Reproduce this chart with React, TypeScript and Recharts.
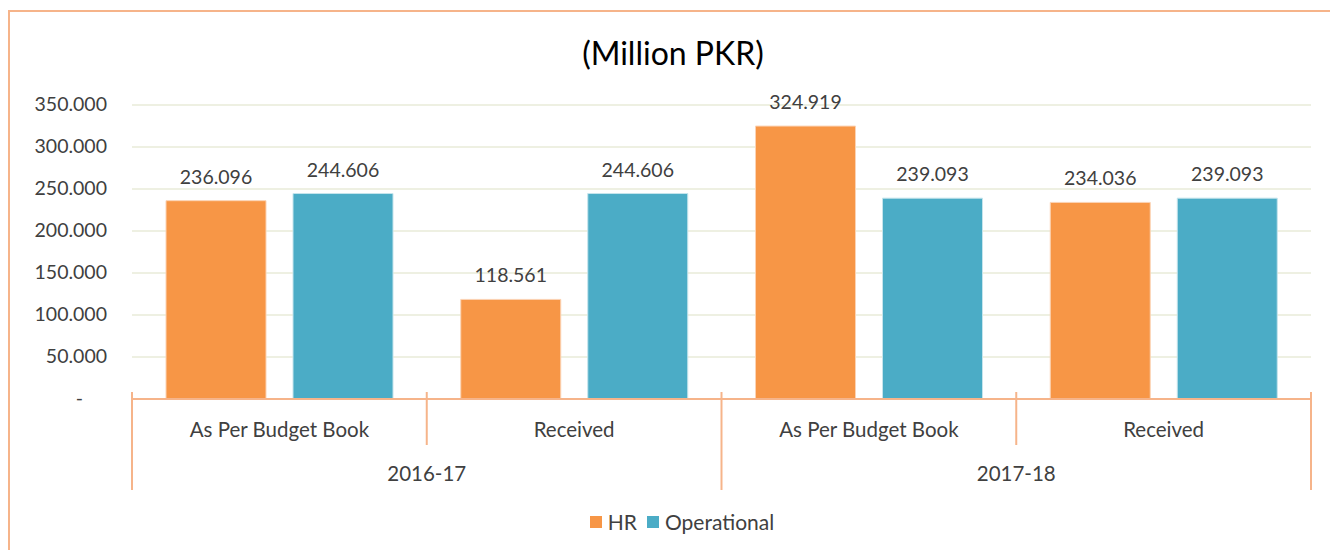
import { Bar, BarChart, CartesianGrid, LabelList, XAxis, YAxis } from "recharts"

const subCategories = ["As Per Budget Book", "Received", "As Per Budget Book", "Received"]
const years = ["2016-17", "2016-17", "2017-18", "2017-18"]
const hrValues = [236.096, 118.561, 324.919, 234.036]
const operationalValues = [244.606, 244.606, 239.093, 239.093]
const yTicks = [0, 50, 100, 150, 200, 250, 300, 350]

const ORANGE = "#f79646"
const TEAL = "#4bacc6"
const LINE = "#f6b48a"
const TEXT = "#404040"
const FONT = "Lato, 'Open Sans', sans-serif"

const data = subCategories.map((sub, i) => ({
  sub,
  year: years[i],
  hr: hrValues[i],
  operational: operationalValues[i],
}))

function fmt(v: number) {
  return v === 0 ? "-" : v.toFixed(3)
}

function YTick(props: any) {
  const { x, y, payload } = props
  const shift = payload.value === 0 ? -24 : 0
  return (
    <text x={x + shift} y={y} dy={6} textAnchor="end" fill={TEXT} fontSize={19.5} fontFamily={FONT}>
      {fmt(payload.value)}
    </text>
  )
}

function CategoryTick(props: any) {
  const { x, y, payload, index } = props
  const half = payload.offset ?? 0
  const last = index === data.length - 1
  const groupStart = index === 0 || data[index - 1].year !== data[index].year
  return (
    <g>
      <line x1={x - half} x2={x - half} y1={y - 7} y2={groupStart ? y + 91 : y + 46} stroke={LINE} strokeWidth={2} />
      {last && <line x1={x + half} x2={x + half} y1={y - 7} y2={y + 91} stroke={LINE} strokeWidth={2} />}
      <text x={x} y={y + 38} textAnchor="middle" fill={TEXT} fontSize={20.5} fontFamily={FONT}>
        {payload.value}
      </text>
      {groupStart && (
        <text x={x + half} y={y + 82} textAnchor="middle" fill={TEXT} fontSize={20.5} fontFamily={FONT}>
          {data[index].year}
        </text>
      )}
    </g>
  )
}

function LegendBox() {
  const items = [
    { name: "HR", color: ORANGE },
    { name: "Operational", color: TEAL },
  ]
  return (
    <div
      style={{
        position: "absolute",
        top: 501,
        left: 4,
        width: 1340,
        display: "flex",
        justifyContent: "center",
        gap: 10,
        fontFamily: FONT,
        fontSize: 21,
        color: TEXT,
      }}
    >
      {items.map(it => (
        <div key={it.name} style={{ display: "flex", alignItems: "center", gap: 6 }}>
          <span style={{ width: 12, height: 12, background: it.color, display: "inline-block" }} />
          <span>{it.name}</span>
        </div>
      ))}
    </div>
  )
}

export default function App() {
  return (
    <div style={{ position: "relative", width: 1330, height: 542, overflow: "visible" }}>
      <div
        style={{
          position: "absolute",
          left: 0,
          top: 2,
          width: 1400,
          height: 600,
          border: `2px solid ${LINE}`,
          boxSizing: "border-box",
        }}
      />
      <div
        style={{
          position: "absolute",
          top: 25,
          left: 0,
          width: 1330,
          textAlign: "center",
          fontFamily: FONT,
          fontSize: 32,
          color: "#000",
        }}
      >
        (Million PKR)
      </div>
      <div style={{ position: "absolute", left: 0, top: 0 }}>
        <BarChart
          width={1330}
          height={542}
          data={data}
          margin={{ top: 97, right: 27, bottom: 0, left: 0 }}
          barCategoryGap={34}
          barGap={27}
        >
          <CartesianGrid vertical={false} stroke="#eef0e2" strokeWidth={2} />
          <YAxis
            width={124}
            domain={[0, 350]}
            ticks={yTicks}
            interval={0}
            axisLine={false}
            tickLine={false}
            tickSize={0}
            tickMargin={25}
            tick={<YTick />}
          />
          <XAxis
            dataKey="sub"
            axisLine={{ stroke: LINE, strokeWidth: 2 }}
            tickLine={false}
            tickSize={0}
            tickMargin={0}
            height={151}
            interval={0}
            tick={<CategoryTick />}
          />
          <Bar dataKey="hr" fill={ORANGE} stroke="#fbd3b5" strokeWidth={1} isAnimationActive={false}>
            <LabelList dataKey="hr" position="top" offset={17} formatter={(v: any) => fmt(Number(v))} fill={TEXT} fontSize={19.5} fontFamily={FONT} />
          </Bar>
          <Bar dataKey="operational" fill={TEAL} stroke="#c5e4ec" strokeWidth={1} isAnimationActive={false}>
            <LabelList dataKey="operational" position="top" offset={17} formatter={(v: any) => fmt(Number(v))} fill={TEXT} fontSize={19.5} fontFamily={FONT} />
          </Bar>
        </BarChart>
      </div>
      <LegendBox />
    </div>
  )
}
